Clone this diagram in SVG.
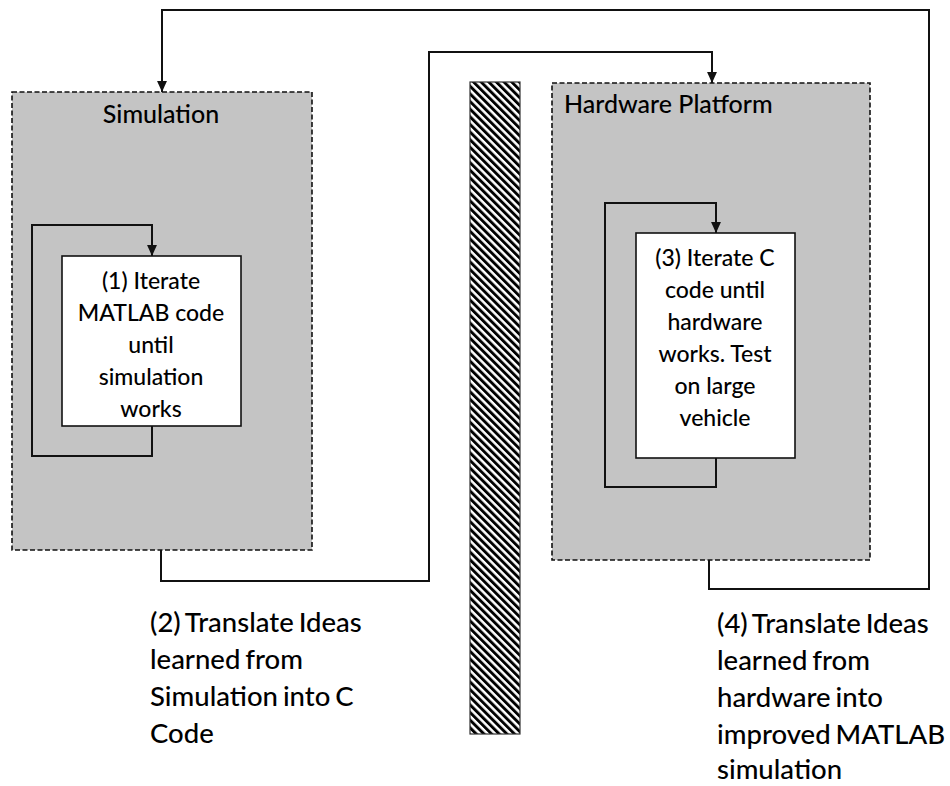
<svg xmlns="http://www.w3.org/2000/svg" width="950" height="786" viewBox="0 0 950 786">
<defs>
<marker id="arr" viewBox="0 0 10 10" refX="10" refY="5" markerWidth="11" markerHeight="11" markerUnits="userSpaceOnUse" orient="auto">
<path d="M0,0.5 L10,5 L0,9.5 z" fill="#111"/>
</marker>
<pattern id="hatch" width="5.4" height="5.4" patternUnits="userSpaceOnUse" patternTransform="rotate(-45)">
<rect x="0" y="0" width="2.9" height="5.4" fill="#000"/>
</pattern>
<style>
.region{fill:#c4c4c4;stroke:#111;stroke-width:1.6;stroke-dasharray:5 2.5}
.box{fill:#fff;stroke:#111;stroke-width:1.6}
.conn{fill:none;stroke:#111;stroke-width:2}
text{font-family:Lato,"Open Sans","Liberation Sans",sans-serif;fill:#000;font-weight:500}
.hdr{font-size:25px}
.inner{font-size:23px;text-anchor:middle}
.note{font-size:27.5px;word-spacing:-2px}
</style>
</defs>
<rect width="950" height="786" fill="#fff"/>
<g id="simulation">
<rect class="region" x="12" y="92" width="300" height="458"/>
<text class="hdr" x="161" y="123" text-anchor="middle">Simulation</text>
</g>
<g id="hardware">
<rect class="region" x="552" y="83" width="318" height="477"/>
<text class="hdr" x="564" y="113">Hardware Platform</text>
</g>
<g id="barrier">
<rect x="470" y="82" width="50" height="652" fill="url(#hatch)" stroke="#333" stroke-width="1.2"/>
</g>
<g id="step1">
<rect class="box" x="62" y="256" width="179" height="170"/>
<text class="inner" x="151" y="289">(1) Iterate</text>
<text class="inner" x="151" y="321">MATLAB code</text>
<text class="inner" x="151" y="353">until</text>
<text class="inner" x="151" y="385">simulation</text>
<text class="inner" x="151" y="417">works</text>
</g>
<g id="step3">
<rect class="box" x="636" y="233" width="159" height="225"/>
<text class="inner" x="715" y="266">(3) Iterate C</text>
<text class="inner" x="715" y="298">code until</text>
<text class="inner" x="715" y="330">hardware</text>
<text class="inner" x="715" y="362">works.  Test</text>
<text class="inner" x="715" y="394">on large</text>
<text class="inner" x="715" y="426">vehicle</text>
</g>
<g id="step2">
<text class="note" x="150" y="632">(2) Translate Ideas</text>
<text class="note" x="150" y="669">learned from</text>
<text class="note" x="150" y="706">Simulation into C</text>
<text class="note" x="150" y="743">Code</text>
</g>
<g id="step4">
<text class="note" x="717" y="633">(4) Translate Ideas</text>
<text class="note" x="717" y="670">learned from</text>
<text class="note" x="717" y="707">hardware into</text>
<text class="note" x="717" y="744">improved MATLAB</text>
<text class="note" x="717" y="779">simulation</text>
</g>
<g id="connectors">
<path class="conn" d="M709,560 V589 H929 V10 H162 V92" marker-end="url(#arr)"/>
<path class="conn" d="M161,550 V581 H429 V52 H712 V83" marker-end="url(#arr)"/>
<path class="conn" d="M152,426 V456 H32 V225 H152 V256" marker-end="url(#arr)"/>
<path class="conn" d="M716,458 V487 H605 V203 H716 V233" marker-end="url(#arr)"/>
</g>
</svg>
